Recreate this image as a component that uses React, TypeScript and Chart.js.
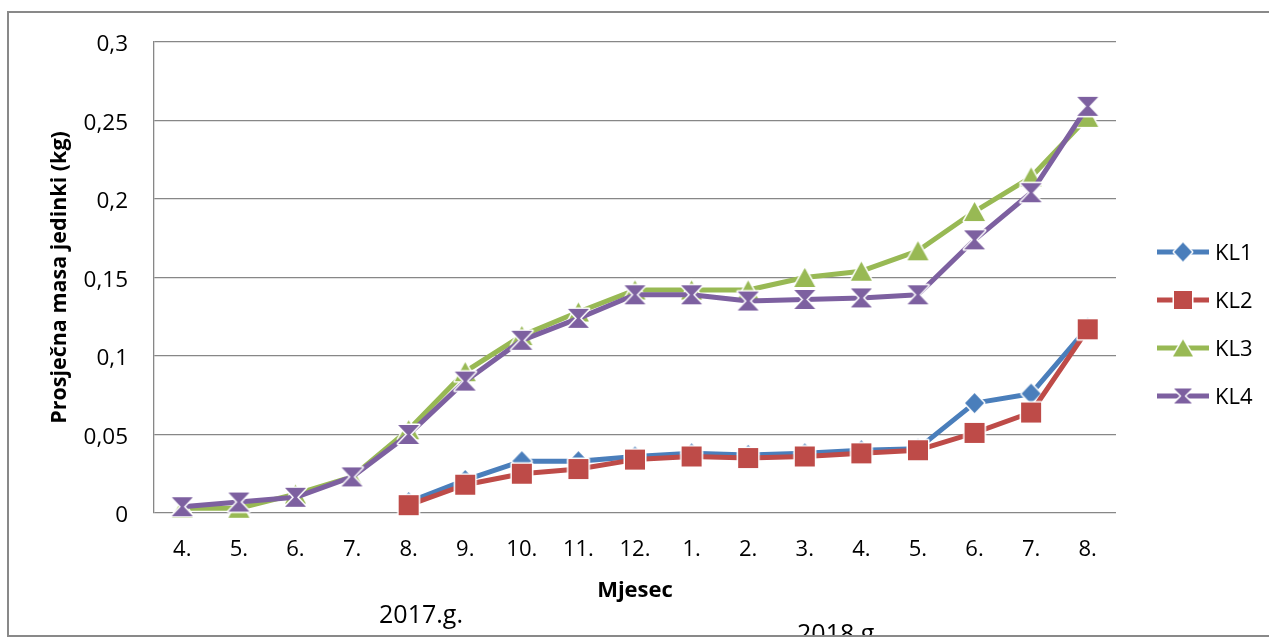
import { useEffect, useRef } from "react";
import { Chart, registerables } from "chart.js";

Chart.register(...registerables);

// ---- data ----
const months = ["4.", "5.", "6.", "7.", "8.", "9.", "10.", "11.", "12.", "1.", "2.", "3.", "4.", "5.", "6.", "7.", "8."];
const kl1 = [null, null, null, null, 0.007, 0.021, 0.033, 0.033, 0.036, 0.038, 0.037, 0.038, 0.040, 0.041, 0.070, 0.076, 0.118];
const kl2 = [null, null, null, null, 0.005, 0.018, 0.025, 0.028, 0.034, 0.036, 0.035, 0.036, 0.038, 0.040, 0.051, 0.064, 0.117];
const kl3 = [0.003, 0.003, 0.012, 0.023, 0.053, 0.090, 0.113, 0.128, 0.142, 0.142, 0.142, 0.150, 0.154, 0.167, 0.192, 0.214, 0.252];
const kl4 = [0.004, 0.007, 0.010, 0.023, 0.050, 0.084, 0.110, 0.124, 0.139, 0.139, 0.135, 0.136, 0.137, 0.139, 0.174, 0.204, 0.259];
const seriesNames = ["KL1", "KL2", "KL3", "KL4"];
const yearLabels = ["2017.g.", "2018.g."];
const yAxisTitle = "Prosječna masa jedinki (kg)";
const xAxisTitle = "Mjesec";

const COLORS = ["#4A7EBB", "#BE4B48", "#98B954", "#7D60A0"];
const SHAPES = ["diamond", "square", "triangle", "hourglass"];
const FONT = "'Open Sans', 'DejaVu Sans', sans-serif";
const GRID = "#878787";

function makeMarker(shape: string, color: string, w: number, h: number) {
  const pad = 3;
  const c = document.createElement("canvas");
  c.width = Math.round(w + pad * 2);
  c.height = Math.round(h + pad * 2);
  const ctx = c.getContext("2d")!;
  ctx.translate(c.width / 2, c.height / 2);
  const hw = w / 2;
  const hh = h / 2;
  ctx.beginPath();
  if (shape === "diamond") {
    ctx.moveTo(0, -hh);
    ctx.lineTo(hw, 0);
    ctx.lineTo(0, hh);
    ctx.lineTo(-hw, 0);
  } else if (shape === "square") {
    ctx.rect(-hw, -hh, w, h);
  } else if (shape === "triangle") {
    ctx.moveTo(0, -hh);
    ctx.lineTo(hw, hh);
    ctx.lineTo(-hw, hh);
  } else {
    ctx.moveTo(-hw, -hh);
    ctx.lineTo(hw, -hh);
    ctx.lineTo(1.5, 0);
    ctx.lineTo(hw, hh);
    ctx.lineTo(-hw, hh);
    ctx.lineTo(-1.5, 0);
  }
  ctx.closePath();
  ctx.lineJoin = "round";
  ctx.lineWidth = 3;
  ctx.strokeStyle = "#ffffff";
  ctx.stroke();
  ctx.fillStyle = color;
  ctx.fill();
  return c;
}

const CHART_SIZES: [number, number][] = [[19, 20], [20, 20], [21, 19], [21, 19]];
const LEGEND_SIZES: [number, number][] = [[18, 19], [18, 18], [20, 17], [18, 15]];

export default function App() {
  const ref = useRef<HTMLCanvasElement | null>(null);

  useEffect(() => {
    if (!ref.current) return;
    const chartMarkers = SHAPES.map((s, i) => makeMarker(s, COLORS[i], CHART_SIZES[i][0], CHART_SIZES[i][1]));
    const legendMarkers = SHAPES.map((s, i) => makeMarker(s, COLORS[i], LEGEND_SIZES[i][0], LEGEND_SIZES[i][1]));
    const series = [kl1, kl2, kl3, kl4];

    const framePlugin = {
      id: "frame",
      beforeDraw(chart: any) {
        const ctx = chart.ctx;
        ctx.save();
        ctx.fillStyle = "#ffffff";
        ctx.fillRect(0, 0, chart.width, chart.height);
        ctx.strokeStyle = "#898989";
        ctx.lineWidth = 2;
        ctx.strokeRect(8, 12, 1320, 624);
        ctx.restore();
      },
      afterDraw(chart: any) {
        const ctx = chart.ctx;
        ctx.save();
        ctx.beginPath();
        ctx.rect(0, 0, chart.width, 635);
        ctx.clip();
        ctx.fillStyle = "#000";
        ctx.font = `25px ${FONT}`;
        ctx.textAlign = "center";
        ctx.textBaseline = "alphabetic";
        ctx.fillText(yearLabels[0], 421, 623);
        ctx.fillText(yearLabels[1], 839, 642);
        ctx.restore();

        ctx.save();
        const rows = [252, 300, 348, 396];
        seriesNames.forEach((name, i) => {
          const y = rows[i];
          ctx.strokeStyle = COLORS[i];
          ctx.lineWidth = 5;
          ctx.beginPath();
          ctx.moveTo(1157, y);
          ctx.lineTo(1209, y);
          ctx.stroke();
          const m = legendMarkers[i];
          ctx.drawImage(m, 1183 - m.width / 2, y - m.height / 2);
          ctx.fillStyle = "#000";
          ctx.font = `22px ${FONT}`;
          ctx.textAlign = "left";
          ctx.textBaseline = "middle";
          ctx.fillText(name, 1215, y + 2);
        });
        ctx.restore();
      },
    };

    const chart = new Chart(ref.current, {
      type: "line",
      data: {
        labels: months,
        datasets: series.map((d, i) => ({
          label: seriesNames[i],
          data: d as any,
          borderColor: COLORS[i],
          backgroundColor: COLORS[i],
          borderWidth: 5,
          borderJoinStyle: "round" as const,
          pointStyle: chartMarkers[i] as any,
          pointRadius: 10,
          pointHoverRadius: 10,
          spanGaps: false,
          clip: false as any,
          order: 3 - i,
          tension: 0,
        })),
      },
      options: {
        responsive: false,
        animation: false,
        events: [],
        layout: { padding: { top: 42, right: 153, bottom: 0, left: 0 } },
        plugins: {
          legend: { display: false },
          tooltip: { enabled: false },
          title: { display: false },
        },
        scales: {
          x: {
            type: "category",
            offset: true,
            grid: { display: false, drawTicks: false, offset: true },
            border: { display: false },
            ticks: {
              color: "#000",
              font: { family: FONT, size: 22 },
              padding: 24,
              autoSkip: false,
              maxRotation: 0,
              minRotation: 0,
            },
            title: {
              display: true,
              text: xAxisTitle,
              color: "#000",
              font: { family: FONT, size: 22, weight: "bold" },
              padding: { top: 0, bottom: 40 },
            },
            afterFit(scale: any) {
              scale.height = 131;
            },
          },
          y: {
            type: "linear",
            min: 0,
            max: 0.3,
            grid: { color: GRID, lineWidth: 1.3, drawTicks: false },
            border: { display: true, color: GRID, width: 1.3 },
            ticks: {
              stepSize: 0.05,
              color: "#000",
              font: { family: FONT, size: 22.5 },
              padding: 26,
              labelOffset: 3,
              callback: (v: any) => String(Number(Number(v).toFixed(2))).replace(".", ","),
            },
            title: {
              display: true,
              text: yAxisTitle,
              color: "#000",
              font: { family: FONT, size: 21.5, weight: "bold" },
              padding: { top: 47, bottom: 0 },
            },
            afterFit(scale: any) {
              scale.width = 154;
            },
          },
        },
      },
      plugins: [framePlugin],
    });

    return () => chart.destroy();
  }, []);

  return (
    <div style={{ position: "absolute", left: 0, top: 0, width: 1269, height: 644, background: "#fff" }}>
      <canvas ref={ref} width={1269} height={644} style={{ display: "block", width: 1269, height: 644 }} />
    </div>
  );
}
